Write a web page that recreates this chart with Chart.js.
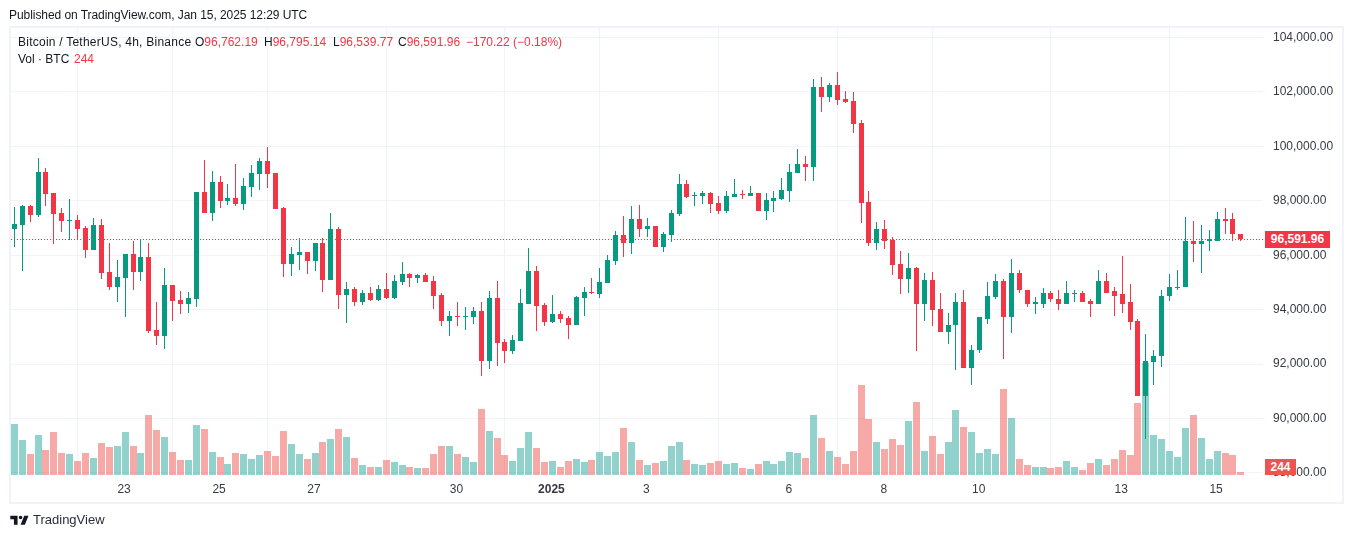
<!DOCTYPE html>
<html>
<head>
<meta charset="utf-8">
<script src="https://cdn.jsdelivr.net/npm/chart.js@4/dist/chart.umd.min.js"></script>
<style>
html,body{margin:0;padding:0;background:#fff;width:1352px;height:538px;overflow:hidden}
body{position:relative;font-family:"Liberation Sans",Arial,sans-serif;color:#131722}
canvas{position:absolute;left:0;top:0}
.t{position:absolute;white-space:nowrap;font-size:12px;line-height:14px}
.r{color:#f23645}
#frame{position:absolute;left:9px;top:26px;width:1331px;height:474px;border:2px solid #f0f3fa}
.tag{position:absolute;color:#fff;font-size:12px;font-weight:bold;text-align:center}
</style>
</head>
<body>
<div id="frame"></div>
<canvas id="c" width="1352" height="538"></canvas>
<div class="t" id="pub" style="left:9px;top:8px;letter-spacing:-0.06px">Published on TradingView.com, Jan 15, 2025 12:29 UTC</div>
<div class="t" style="left:18px;top:35px;letter-spacing:0.24px">Bitcoin / TetherUS, 4h, Binance</div>
<div class="t" style="left:195px;top:35px">O<span class="r">96,762.19</span></div>
<div class="t" style="left:264px;top:35px">H<span class="r">96,795.14</span></div>
<div class="t" style="left:333px;top:35px">L<span class="r">96,539.77</span></div>
<div class="t" style="left:398px;top:35px">C<span class="r">96,591.96</span></div>
<div class="t r" style="left:466px;top:35px">−170.22 (−0.18%)</div>
<div class="t" style="left:18px;top:52px">Vol · BTC</div>
<div class="t r" style="left:74px;top:52px">244</div>
<div class="tag" id="pxTag" style="left:1265px;top:231px;width:65px;height:17px;line-height:17px;background:#f23645"></div>
<div class="tag" id="volTag" style="left:1265px;top:459px;width:31px;height:16px;line-height:16px;background:#ef5350"></div>
<svg style="position:absolute;left:9px;top:512px" width="22" height="17" viewBox="0 0 36 28"><path fill="#131722" d="M14 6H2v6h6v9h6V6Zm12 15h-7l6-15h7l-6 15Zm-7-9a3 3 0 1 0 0-6 3 3 0 0 0 0 6Z"/></svg>
<div class="t" style="left:33px;top:513px;font-size:13px;color:#2a2e39">TradingView</div>
<script>
const opens=[96960,97110,97805,97475,99055,98285,97550,97255,97290,97000,96190,97110,95380,94830,95160,96045,95380,95935,93250,93030,94905,94350,94205,94390,98320,97550,98690,97990,98100,97880,98505,98985,99460,99020,97735,95675,96005,96115,95785,96445,95085,96960,94535,94755,94280,94610,94350,94755,94425,95015,95310,95160,95270,95050,94535,93580,93765,93730,93730,93950,92110,94425,92810,92480,92845,94205,95420,94170,93545,93840,93690,93435,94425,94645,94575,94975,95785,96740,96445,97330,96960,97070,96300,96735,97510,98620,98175,98175,98285,97915,97620,98140,98250,98175,98285,97620,97990,98065,98360,99025,99355,99245,102195,101830,102270,101755,101680,100870,97955,96440,96955,96550,95665,95110,95520,94225,95075,94040,93195,93420,94265,91875,92500,93675,94450,95070,93715,95330,94740,94190,94225,94630,94410,94225,94595,94630,94335,94225,95070,94670,94560,94265,93600,90810,92095,92280,94485,94815,94815,96540,96430,96540,96540,97315,97315,96762.19];
const highs=[97770,97845,97845,99570,99205,98285,97735,98065,97475,97070,97365,97330,96445,95820,96045,96520,96555,96445,94280,95530,94905,94685,94645,98320,99500,99095,98910,98615,99350,98835,99315,99570,99975,99020,97770,96300,96630,96115,96445,96630,97550,97035,95015,94830,94720,94830,94905,95345,95270,95750,95345,95310,95345,95235,94610,93950,94280,94095,94095,94280,94685,95050,92920,93065,94755,96265,95600,94240,94535,93950,93765,94500,94830,95160,95530,96005,96890,97440,97805,97845,97365,97070,96850,97660,98985,98765,98320,98360,98320,98175,98360,98800,98395,98545,98285,98285,98360,98840,99355,99910,99650,102490,102530,102345,102750,102050,102010,100980,98360,97215,97290,96660,96145,96070,95555,95335,95370,94630,93895,94595,94705,92720,93715,95000,95295,95110,95845,95440,94740,94450,94780,94670,94705,95035,94705,94670,94410,95440,95330,94815,95955,94925,93675,93090,92535,94740,95295,95475,97390,97275,97095,96910,97570,97720,97535,96795.14];
const lows=[96300,95420,97220,97400,97805,96410,96850,96570,96555,95895,96190,95125,94720,94280,93730,94720,95050,93140,92700,92550,93580,93840,93875,94095,97550,97255,97735,97845,97805,97660,98140,98395,98470,97695,95200,95235,95455,95310,95420,94645,95085,94020,93505,94130,94170,94315,94315,94390,94390,94905,94830,94975,95015,94020,93395,93030,93395,93250,93470,91560,91815,91925,92035,92370,92845,94205,93215,93395,93505,93505,92920,93435,93765,94575,94425,94975,95640,95935,96045,96670,96670,96300,96115,96480,97435,98100,97805,97880,97550,97510,97550,98140,98065,98175,97620,97290,97585,98025,97955,99025,98730,98730,101275,101645,101530,101605,100500,97180,96330,96180,96220,95260,94560,94630,92490,93600,93415,93195,92750,91800,91875,91215,92425,93490,94375,92205,93160,94595,94115,93825,94045,94300,93970,94190,94300,94265,93715,94190,94595,93785,93895,93270,90810,89265,91250,91910,94335,94740,94815,95735,95365,96140,96505,96765,96505,96539.77];
const closes=[97145,97805,97475,99055,98250,97515,97255,97290,96960,96190,97110,95345,94830,95200,96045,95380,95935,93215,93030,94905,94315,94205,94425,98320,97550,98690,97990,98100,97880,98540,99020,99460,98985,97695,95675,96045,96115,95785,96445,95085,96960,94535,94755,94280,94610,94350,94755,94425,95050,95310,95160,95270,95015,94500,93580,93765,93730,93765,93950,92110,94425,92770,92480,92880,94240,95420,94130,93545,93840,93655,93435,94465,94645,94610,95015,95820,96740,96445,97330,96960,97070,96300,96780,97550,98620,98140,98210,98285,97880,97620,98175,98250,98210,98285,97620,98025,98100,98395,99060,99355,99245,102195,101830,102270,101715,101645,100830,97915,96440,96955,96515,95630,95110,95520,94225,95075,94005,93195,93450,94265,91875,92535,93715,94485,95070,93715,95330,94705,94190,94265,94630,94375,94225,94595,94630,94300,94225,95070,94630,94520,94225,93565,90810,92130,92315,94520,94850,94850,96540,96430,96540,96580,97315,97275,96762,96591.96];
const volumes=[4131,2835,1701,3240,2025,3483,1782,1701,1134,1782,1377,2592,2268,2349,3483,2349,1782,4860,3645,3078,1863,1215,1215,4050,3726,1863,1458,891,1782,1701,1296,1620,1944,1539,3564,2511,1701,1296,1782,2673,2916,3726,3078,1377,810,648,648,1215,1053,810,648,567,567,1701,2349,2349,1701,1458,1053,5346,3564,2997,1620,1134,2187,3483,2187,1053,1134,648,1134,1296,1053,1215,1863,1539,1863,3807,2673,1215,810,972,1134,2349,2673,1215,891,810,972,1134,891,972,567,486,891,1134,891,1134,1863,1782,1377,4860,2997,1944,1458,891,1944,7290,4536,2673,2106,2916,2430,4374,5913,1944,3159,1701,2673,5265,3888,3483,1782,2106,1701,6966,4617,1296,810,648,648,567,648,1134,648,405,972,1296,810,1296,2025,1620,5832,9072,3240,2916,1944,1458,3807,4860,2997,1296,1944,1782,1620,244];
const priceTicks=[88000,90000,92000,94000,96000,98000,100000,102000,104000];
const dayIndex=[14,26,38,56,68,80,98,110,122,140,152];
const dayLabels=['23','25','27','30','2025','3','6','8','10','13','15'];
const lastClose=closes[closes.length-1], lastVol=volumes[volumes.length-1];
const xMin=-0.42,xMax=157.8;

const UP='#089981',DOWN='#f23645',VUP='rgba(38,166,154,0.5)',VDOWN='rgba(239,83,80,0.5)';
const isUp=closes.map((c,i)=>c>=opens[i]);
const money=v=>v.toLocaleString('en-US',{minimumFractionDigits:2,maximumFractionDigits:2});
document.getElementById('pxTag').textContent=money(lastClose);
document.getElementById('volTag').textContent=String(lastVol);

const snap={id:'snap',beforeDatasetsDraw(ch){
  ch.data.datasets.forEach((d,i)=>{
    if(d.type==='line'){
      ch.getDatasetMeta(i).data.forEach(el=>{el.y=Math.floor(el.y)+0.5;});
      return;
    }
    ch.getDatasetMeta(i).data.forEach(el=>{
      el.x=Math.floor(el.x)+0.5;
      const a=Math.round(el.y),b=Math.round(el.base);
      el.y=a;el.base=(a===b)?b+1:b;
    });
  });
}};

new Chart(document.getElementById('c'),{
  type:'bar',
  plugins:[snap],
  data:{datasets:[
    {label:'Volume',yAxisID:'v',order:3,barThickness:7,
     data:volumes.map((v,i)=>({x:i,y:v})),backgroundColor:isUp.map(u=>u?VUP:VDOWN)},
    {label:'Wick',yAxisID:'y',order:2,barThickness:1,
     data:lows.map((l,i)=>({x:i,y:[l,highs[i]]})),backgroundColor:isUp.map(u=>u?UP:DOWN)},
    {label:'Body',yAxisID:'y',order:1,barThickness:5,
     data:opens.map((o,i)=>({x:i,y:[o,closes[i]]})),backgroundColor:isUp.map(u=>u?UP:DOWN)},
    {type:'line',label:'Last',yAxisID:'y',order:0,
     data:[{x:xMin,y:lastClose},{x:xMax,y:lastClose}],
     borderColor:DOWN,borderWidth:1,borderDash:[1,2],pointRadius:0}
  ]},
  options:{
    responsive:false,animation:false,
    devicePixelRatio:1,
    layout:{padding:{left:11,right:10,top:27,bottom:35}},
    plugins:{legend:{display:false},tooltip:{enabled:false}},
    datasets:{bar:{grouped:false,borderWidth:0,borderSkipped:false,inflateAmount:0}},
    scales:{
      x:{type:'linear',min:xMin,max:xMax,offset:false,
        afterBuildTicks(s){s.ticks=dayIndex.map(v=>({value:v}));},
        afterFit(s){s.height=28;},
        grid:{color:'#f0f3fa',lineWidth:1,drawTicks:false},border:{display:false},
        ticks:{autoSkip:false,maxRotation:0,padding:7,labelOffset:-1,color:'#363a45',
          font:c=>({family:'"Liberation Sans"',size:12,weight:c.tick&&dayLabels[dayIndex.indexOf(c.tick.value)]==='2025'?'bold':'normal'}),
          callback:v=>dayLabels[dayIndex.indexOf(v)]||''}},
      y:{position:'right',min:87926,max:104385,
        afterBuildTicks(s){s.ticks=priceTicks.map(v=>({value:v}));},
        afterFit(s){s.width=79;},
        grid:{color:'#f0f3fa',lineWidth:1,drawTicks:false},border:{display:false},
        ticks:{padding:10,color:'#363a45',font:{family:'"Liberation Sans"',size:12},callback:v=>money(v)}},
      v:{display:false,position:'left',min:0,max:36288,grid:{display:false}}
    }
  }
});
</script>
</body>
</html>
